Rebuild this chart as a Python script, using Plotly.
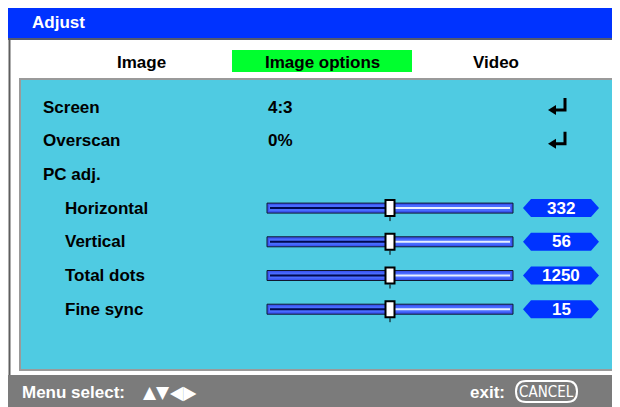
import plotly.graph_objects as go

# menu content
TITLE = "Adjust"
TABS = ["Image", "Image options", "Video"]
ACTIVE_TAB = 1
ROW_LABELS = ["Screen", "Overscan", "PC adj.", "Horizontal", "Vertical", "Total dots", "Fine sync"]
ROW_INDENT = [0, 0, 0, 1, 1, 1, 1]
ROW_VALUES = ["4:3", "0%", "", "", "", "", ""]
ROW_ENTER = [True, True, False, False, False, False, False]
SLIDER_VALUES = [None, None, None, 332, 56, 1250, 15]
SLIDER_POS = [None, None, None, 0.5, 0.5, 0.5, 0.5]
FOOTER_LEFT = "Menu select:"
FOOTER_ARROWS = "▲▼◀▶"
FOOTER_RIGHT = "exit:"
CANCEL_LABEL = "CANCEL"

W, H = 620, 407
PAGE_MARGIN = 8  # the page body puts the figure 8px in from the top-left corner
BLUE = "#0033ff"
GREEN = "#00ff2e"
CYAN = "#4fcbe2"
GREY_BAR = "#7b7b7b"
FONT = "Liberation Sans"

ROW_Y0, ROW_STEP = 107, 33.7
TRACK_X0, TRACK_X1 = 267, 513

fig = go.Figure()
shapes = []
ann = []


def rect(x0, y0, x1, y1, fill, line=None, lw=0):
    shapes.append(dict(type="rect", xref="x", yref="y", x0=x0, y0=y0, x1=x1, y1=y1,
                       fillcolor=fill, line=dict(color=line or fill, width=lw), layer="below"))


def path(d, fill=None, line=None, lw=0):
    shapes.append(dict(type="path", xref="x", yref="y", path=d,
                       fillcolor=fill or "rgba(0,0,0,0)",
                       line=dict(color=line or "rgba(0,0,0,0)", width=lw), layer="below"))


def text(x, y, s, size=17, color="black", anchor="left", bold=True, family=FONT):
    ann.append(dict(x=x, y=y, xref="x", yref="y", text=f"<b>{s}</b>" if bold else s,
                    showarrow=False, xanchor=anchor, yanchor="middle",
                    font=dict(family=family, size=size, color=color)))


# frame
rect(9.5, 38, W + 2, H + 2, "white", "#5e5e5e", 2)
rect(7, 5, W + 2, 38, BLUE)
shapes.append(dict(type="line", xref="x", yref="y", x0=7, x1=W, y0=39, y1=39,
                   line=dict(color="#555a6e", width=2), layer="below"))
text(30, 22, TITLE, color="white")

# tabs
tab_cx = [141, 322, 496]
rect(232, 50, 412, 72, GREEN)
for cx, t in zip(tab_cx, TABS):
    text(cx, 62, t, anchor="center")

# content panel
rect(20, 79, 613, 370, CYAN, "#9a9a9a", 2)

for i, lab in enumerate(ROW_LABELS):
    y = ROW_Y0 + ROW_STEP * i
    text(41 + 22 * ROW_INDENT[i], y, lab)
    if ROW_VALUES[i]:
        text(266, y, ROW_VALUES[i])
    if ROW_ENTER[i]:
        path(f"M 565 {y-9} L 565 {y+3} L 555 {y+3}", line="black", lw=3)
        path(f"M 548 {y+3} L 556 {y-2} L 556 {y+8} Z", fill="black")
    if SLIDER_VALUES[i] is not None:
        # track
        rect(TRACK_X0, y - 5, TRACK_X1, y + 5, "#3a55f0", "#101830", 1)
        rect(TRACK_X0 + 2, y - 3, TRACK_X1 - 2, y + 3, "#4a6cff")
        tx = TRACK_X0 + SLIDER_POS[i] * (TRACK_X1 - TRACK_X0)
        shapes.append(dict(type="line", xref="x", yref="y", x0=TRACK_X0 + 3, x1=tx, y0=y, y1=y,
                           line=dict(color="#000a50", width=2), layer="below"))
        shapes.append(dict(type="line", xref="x", yref="y", x0=tx, x1=TRACK_X1 - 3, y0=y, y1=y,
                           line=dict(color="#e8f0ff", width=2), layer="below"))
        # thumb
        rect(tx - 4.5, y - 8, tx + 4.5, y + 8, "white", "black", 2)
        shapes.append(dict(type="line", xref="x", yref="y", x0=tx, x1=tx, y0=y + 9, y1=y + 13,
                           line=dict(color="black", width=1), layer="below"))
        # value badge
        path(f"M 523 {y} L 531 {y-9} L 591 {y-9} L 599 {y} L 591 {y+9} L 531 {y+9} Z", fill=BLUE)
        text(561, y, str(SLIDER_VALUES[i]), color="white", anchor="center")

# footer
rect(7, 375, W + 2, H + 2, GREY_BAR)
text(20, 392, FOOTER_LEFT, color="white")
text(141, 392, FOOTER_ARROWS[:2], size=17, color="white", bold=False, family="DejaVu Sans")
text(168, 392, FOOTER_ARROWS[2:], size=19, color="white", bold=False, family="DejaVu Sans Condensed")
text(468, 392, FOOTER_RIGHT, color="white")
path("M 526 381 L 567 381 Q 577 381 577 391.5 Q 577 402 567 402 L 526 402 "
     "Q 516 402 516 391.5 Q 516 381 526 381 Z", line="white", lw=2)
text(546.5, 392, CANCEL_LABEL, size=15, color="white", anchor="center", bold=False,
     family="DejaVu Sans Condensed")

fig.add_trace(go.Scatter(x=[0, W], y=[0, H], mode="markers", marker=dict(opacity=0),
                         hoverinfo="skip", showlegend=False))
fig.update_layout(
    width=W - PAGE_MARGIN, height=H - PAGE_MARGIN, margin=dict(l=0, r=0, t=0, b=0),
    paper_bgcolor="white", plot_bgcolor="white",
    xaxis=dict(range=[PAGE_MARGIN, W], visible=False, fixedrange=True),
    yaxis=dict(range=[H, PAGE_MARGIN], visible=False, fixedrange=True),
    shapes=shapes, annotations=ann, showlegend=False,
)
fig.write_html("out.html", config={"displayModeBar": False})
